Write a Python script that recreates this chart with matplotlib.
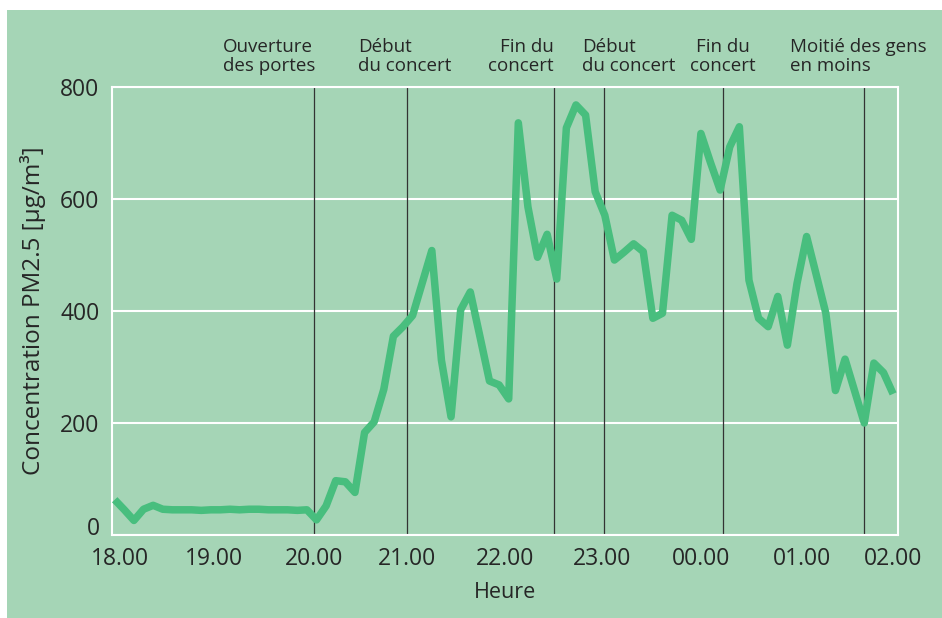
import numpy as np
import matplotlib
matplotlib.use("Agg")
import matplotlib.pyplot as plt
from matplotlib.patches import Rectangle

plt.rcParams['font.family'] = ['Open Sans', 'DejaVu Sans']

# concentration PM2.5 relevée de 18.00 à 02.00
pm25 = [63, 45, 26, 46, 53, 46, 45, 45, 45, 44, 45, 45, 46, 45, 46, 46, 45, 45, 45, 44, 45,
        27, 52, 97, 95, 76, 183, 202, 260, 355, 372, 392, 450, 508, 312, 211, 402, 434, 355, 275,
        268, 243, 736, 586, 496, 537, 457, 727, 768, 750, 613, 571, 491, 505, 520, 506, 387, 396,
        571, 562, 528, 717, 665, 616, 693, 729, 455, 387, 372, 426, 339, 449, 533, 465, 396, 258,
        314, 257, 200, 307, 290, 252]
heures = np.linspace(0, 8, len(pm25))   # heures depuis 18.00

tick_labels = ["18.00", "19.00", "20.00", "21.00", "22.00", "23.00", "00.00", "01.00", "02.00"]
# l'axe d'origine n'est pas tout à fait régulier
tick_pos = [0.05, 1.02, 2.05, 3.0, 4.01, 5.01, 6.03, 7.06, 8.0]

# evenements (heures depuis 18.00)
evt_x = [2.05, 3.0, 4.52, 5.03, 6.25, 7.7]
evt_txt = ["Ouverture\ndes portes", "Début\ndu concert", "Fin du\nconcert",
           "Début\ndu concert", "Fin du\nconcert", "Moitié des gens\nen moins"]

bg = '#a5d5b6'
txt_col = '#262626'

fig = plt.figure(figsize=(9.42, 6.18), dpi=100, facecolor='white')
fig.patches.append(Rectangle((7 / 942, 0), 1, 608 / 618, transform=fig.transFigure,
                             facecolor=bg, edgecolor='none', zorder=-1))
ax = fig.add_axes([112 / 942, 1 - 535 / 618, 786 / 942, 448 / 618])
ax.set_facecolor(bg)

for x in evt_x:
    ax.axvline(x, color='#333333', lw=0.9, zorder=2)

ax.plot(heures, pm25, color='#48be7e', lw=5.4, solid_joinstyle='round',
        solid_capstyle='butt', zorder=3)

ax.set_xlim((112 - 114.7) / 97.3, (898 - 114.7) / 97.3)
ax.set_ylim(0, 800)
ax.set_yticks([0, 200, 400, 600, 800])
ax.set_xticks(tick_pos)
ax.set_xticklabels(tick_labels)
ax.yaxis.grid(True, color='white', lw=1.5, zorder=1)
ax.set_axisbelow(True)
for s in ax.spines.values():
    s.set_color('white')
    s.set_linewidth(1.5)
ax.tick_params(axis='both', length=0, labelsize=16.5, colors=txt_col)
ax.tick_params(axis='x', pad=8.5)
ax.tick_params(axis='y', pad=9)
ax.get_yticklabels()[0].set_verticalalignment('baseline')

ax.set_xlabel("Heure", fontsize=15.5, color=txt_col, labelpad=8)
ax.set_ylabel("Concentration PM2.5 [µg/m³]", fontsize=17.5, color=txt_col)
ax.yaxis.set_label_coords((46 - 112) / 786, 0.5)

# annotations au-dessus du graphe
pos = [(223, 'left', 'left'), (358, 'left', 'left'), (554, 'right', 'right'),
       (582, 'left', 'left'), (723, 'center', 'center'), (790, 'left', 'left')]
for t, (px, ha, ma) in zip(evt_txt, pos):
    ax.text((px - 114.7) / 97.3, 1.026, t, transform=ax.get_xaxis_transform(),
            ha=ha, va='bottom', multialignment=ma, fontsize=13.5, color=txt_col,
            linespacing=1.1)

fig.savefig("out.png", dpi=100, facecolor='white')
